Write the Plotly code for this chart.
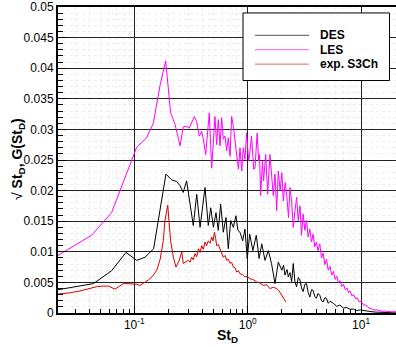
import numpy as np
import plotly.graph_objects as go

series_names = ["DES", "LES", "exp. S3Ch"]
series_colors = ["#000000", "#ff00ff", "#d40000"]

des_x = [0.0212, 0.0435, 0.063, 0.0845, 0.105, 0.124, 0.148, 0.169, 0.190, 0.215,
         0.236, 0.253, 0.270, 0.289, 0.306, 0.331, 0.355, 0.380, 0.420, 0.449,
         0.472, 0.498, 0.525, 0.550, 0.577, 0.609, 0.643, 0.674, 0.707, 0.747,
         0.787, 0.820, 0.855, 0.902, 0.945, 0.990, 1.04, 1.11, 1.19, 1.26,
         1.33, 1.42, 1.52, 1.62, 1.74, 1.86, 2.00, 2.07, 2.13, 2.22,
         2.28, 2.36, 2.44, 2.52, 2.61, 2.70, 2.79, 2.89, 2.98, 3.08,
         3.19, 3.30, 3.41, 3.53, 3.65, 3.77, 3.90, 4.03, 4.17, 4.32,
         4.47, 4.62, 4.79, 4.95, 5.12, 5.32, 5.68, 6.08, 6.51, 6.97,
         7.46, 7.98, 8.54, 9.1, 9.8, 11.0, 12.0, 13.3, 14.7, 16.3, 18.0, 20.3]
des_y = [0.0038, 0.0048, 0.0069, 0.0099, 0.0086, 0.0091, 0.0105, 0.0167, 0.0227, 0.0217,
         0.0215, 0.0208, 0.0197, 0.0216, 0.0183, 0.0143, 0.0194, 0.0140, 0.0205, 0.0143,
         0.0172, 0.0140, 0.0164, 0.0135, 0.0178, 0.0132, 0.0156, 0.0105, 0.0151, 0.0140,
         0.0159, 0.0135, 0.0132, 0.0118, 0.0137, 0.0089, 0.0129, 0.0102, 0.0127, 0.0089,
         0.0113, 0.0086, 0.0102, 0.0081, 0.0048, 0.0083, 0.0070, 0.0078, 0.0062, 0.0071,
         0.0059, 0.0066, 0.0051, 0.0081, 0.0050, 0.0043, 0.0058, 0.0054, 0.0041, 0.0035,
         0.0047, 0.0048, 0.0034, 0.0026, 0.0038, 0.0037, 0.0027, 0.0024, 0.0032, 0.0029,
         0.0020, 0.0018, 0.0025, 0.0024, 0.0016, 0.0019, 0.0016, 0.0011, 0.0013, 0.0008,
         0.0009, 0.0006, 0.00065, 0.0004, 0.0005, 0.0003, 0.00025, 0.00015, 0.0001, 0.00005, 0.00003, 0.00002]

les_x = [0.0212, 0.042, 0.063, 0.084, 0.105, 0.128, 0.147, 0.169, 0.189, 0.209,
         0.229, 0.253, 0.270, 0.290, 0.305, 0.338, 0.354, 0.374, 0.392, 0.406,
         0.426, 0.458, 0.481, 0.514, 0.532, 0.550, 0.570, 0.589, 0.609, 0.630,
         0.652, 0.674, 0.699, 0.721, 0.747, 0.773, 0.800, 0.828, 0.855, 0.885,
         0.913, 0.945, 0.978, 1.02, 1.04, 1.08, 1.13, 1.16, 1.21, 1.25,
         1.27, 1.30, 1.35, 1.38, 1.44, 1.50, 1.57, 1.62, 1.68, 1.74,
         1.80, 1.86, 1.93, 2.00, 2.06, 2.14, 2.21, 2.29, 2.36, 2.44,
         2.52, 2.61, 2.70, 2.79, 2.89, 2.98, 3.08, 3.19, 3.30, 3.41,
         3.53, 3.65, 3.77, 3.90, 4.03, 4.17, 4.32, 4.47, 4.62, 4.79,
         4.95, 5.12, 5.32, 5.5, 5.7, 5.9, 6.1, 6.3, 6.5, 6.75,
         7.0, 7.25, 7.5, 7.75, 8.0, 8.3, 8.6, 8.9, 9.2, 9.6,
         10.0, 10.5, 11.0, 11.5, 12.0, 13.0, 14.0, 15.0, 16.5, 18.0, 20.3]
les_y = [0.0094, 0.0127, 0.0164, 0.0226, 0.0271, 0.0286, 0.0310, 0.0373, 0.0412, 0.0327,
         0.0308, 0.0273, 0.0304, 0.0305, 0.0302, 0.0321, 0.0313, 0.0289, 0.0297, 0.0284,
         0.0259, 0.0327, 0.0237, 0.0321, 0.0275, 0.0316, 0.0273, 0.0319, 0.0284, 0.0289,
         0.0265, 0.0286, 0.0256, 0.0321, 0.0305, 0.0281, 0.0254, 0.0235, 0.0270, 0.0232,
         0.0270, 0.0251, 0.0294, 0.0248, 0.0259, 0.0289, 0.0235, 0.0237, 0.0294, 0.0248,
         0.0259, 0.0192, 0.0248, 0.0216, 0.0259, 0.0194, 0.0259, 0.0221, 0.0192, 0.0227,
         0.0167, 0.0232, 0.0200, 0.0229, 0.0183, 0.0213, 0.0192, 0.0156, 0.0205, 0.0181,
         0.0140, 0.0167, 0.0189, 0.0151, 0.0175, 0.0127, 0.0162, 0.0135, 0.0151, 0.0124,
         0.0137, 0.0116, 0.0129, 0.0108, 0.0116, 0.0102, 0.0113, 0.0090, 0.0098, 0.0079,
         0.0088, 0.0070, 0.0076, 0.0062, 0.0068, 0.0055, 0.0060, 0.0049, 0.0053, 0.0043,
         0.0047, 0.0038, 0.0041, 0.0033, 0.0036, 0.0028, 0.0030, 0.0023, 0.0025, 0.0018,
         0.0019, 0.0013, 0.0013, 0.0009, 0.0008, 0.0005, 0.0005, 0.0003, 0.0003, 0.0002, 0.0002]

exp_x = [0.0212, 0.0271, 0.0332, 0.0407, 0.0466, 0.053, 0.059, 0.0676, 0.073, 0.080,
         0.088, 0.098, 0.105, 0.112, 0.122, 0.133, 0.143, 0.158, 0.169, 0.180,
         0.186, 0.197, 0.209, 0.221, 0.233, 0.249, 0.262, 0.270, 0.286, 0.299,
         0.310, 0.320, 0.331, 0.343, 0.355, 0.368, 0.380, 0.393, 0.406, 0.420,
         0.434, 0.449, 0.465, 0.481, 0.494, 0.509, 0.521, 0.532, 0.550, 0.570,
         0.589, 0.609, 0.630, 0.652, 0.674, 0.699, 0.721, 0.747, 0.773, 0.800,
         0.828, 0.855, 0.898, 0.945, 0.993, 1.04, 1.11, 1.19, 1.28, 1.37,
         1.47, 1.57, 1.68, 1.80, 1.89, 2.00, 2.09, 2.17]
exp_y = [0.0031, 0.0033, 0.0036, 0.0040, 0.0043, 0.0044, 0.0044, 0.0039, 0.0043, 0.0048,
         0.0048, 0.0048, 0.0047, 0.0045, 0.0049, 0.0054, 0.0059, 0.0070, 0.0088, 0.0118,
         0.0150, 0.0176, 0.0118, 0.0091, 0.0075, 0.0086, 0.0100, 0.0081, 0.0084, 0.0086,
         0.0083, 0.0091, 0.0087, 0.0097, 0.0092, 0.0105, 0.0099, 0.0110, 0.0104, 0.0116,
         0.0110, 0.0118, 0.0114, 0.0124, 0.0118, 0.0132, 0.0122, 0.0110, 0.0112, 0.0105,
         0.0098, 0.0091, 0.0094, 0.0086, 0.0088, 0.0081, 0.0083, 0.0075, 0.0074, 0.0067,
         0.0069, 0.0064, 0.0063, 0.0059, 0.0060, 0.0056, 0.0055, 0.0051, 0.0049, 0.0045,
         0.0046, 0.0040, 0.0042, 0.0040, 0.0036, 0.0029, 0.0024, 0.0018]

x_tickvals = [0.1, 1, 10]
x_ticktext = ["10<sup>-1</sup>", "10<sup>0</sup>", "10<sup>1</sup>"]
y_tickvals = [0, 0.005, 0.01, 0.015, 0.02, 0.025, 0.03, 0.035, 0.04, 0.045, 0.05]
y_ticktext = ["0", "0.005", "0.01", "0.015", "0.02", "0.025", "0.03", "0.035", "0.04", "0.045", "0.05"]

x_minor = [m * 10.0 ** e for e in (-2, -1, 0, 1) for m in range(2, 10)]
y_minor = [round(i * 0.001, 3) for i in range(51) if i % 5 != 0]

FONT = "Liberation Sans, Arial, sans-serif"

fig = go.Figure()
for name, color, xs, ys in zip(series_names, series_colors,
                               [des_x, les_x, exp_x], [des_y, les_y, exp_y]):
    fig.add_trace(go.Scatter(x=xs, y=ys, mode="lines", name=name,
                             line=dict(color=color, width=1), showlegend=False))

# plot geometry (pixels) for manual legend placement
L, R, T, B = 58, 0, 5, 34
W, H = 396, 347
pw, ph = W - L - R, H - T - B

def px(xp):
    return (xp - L) / pw

def py(yp):
    return (H - B - yp) / ph

shapes = [dict(type="rect", xref="paper", yref="paper", x0=px(243), x1=px(389.5),
               y0=py(79), y1=py(11), line=dict(color="black", width=1), fillcolor="white", layer="above")]
annotations = []
legend_line_colors = ["#555555", "#ff55ff", "#e06666"]
for i, (name, lc) in enumerate(zip(series_names, legend_line_colors)):
    yy = 33.5 + i * 14.5
    shapes.append(dict(type="line", xref="paper", yref="paper", x0=px(255), x1=px(309),
                       y0=py(yy), y1=py(yy), line=dict(color=lc, width=1), layer="above"))
    annotations.append(dict(text="<b>%s</b>" % name, xref="paper", yref="paper",
                            x=px(318), y=py(yy), xanchor="left", yanchor="middle",
                            showarrow=False, font=dict(family=FONT, size=12, color="black")))

annotations.append(dict(text="√ <b>St<sub>D</sub>, G(St<sub>D</sub>)</b>", textangle=-90,
                        xref="paper", yref="paper", x=px(18), y=py(158),
                        xanchor="center", yanchor="middle", showarrow=False,
                        font=dict(family=FONT, size=14, color="black")))
annotations.append(dict(text="<b>St<sub>D</sub></b>", xref="paper", yref="paper",
                        x=px(227), y=py(336), xanchor="center", yanchor="middle",
                        showarrow=False, font=dict(family=FONT, size=14, color="black")))

fig.update_layout(
    width=W, height=H, margin=dict(l=L, r=R, t=T, b=B),
    paper_bgcolor="white", plot_bgcolor="white",
    font=dict(family=FONT, size=12, color="black"),
    shapes=shapes, annotations=annotations, showlegend=False,
    xaxis=dict(type="log", range=[np.log10(0.02123), np.log10(20.3)],
               tickmode="array", tickvals=x_tickvals, ticktext=x_ticktext,
               showgrid=True, gridcolor="#222222", gridwidth=1,
               ticks="inside", ticklen=7, tickcolor="black",
               showline=True, linecolor="black", linewidth=2, mirror=True,
               zeroline=False,
               minor=dict(tickmode="array", tickvals=x_minor, ticks="inside", ticklen=4,
                          tickcolor="black", showgrid=True, gridcolor="#ededed",
                          griddash="dot", gridwidth=1)),
    yaxis=dict(range=[0, 0.050002], tickmode="array", tickvals=y_tickvals, ticktext=y_ticktext,
               ticklabeloverflow="allow",
               showgrid=True, gridcolor="#222222", gridwidth=1,
               ticks="inside", ticklen=8, tickcolor="black",
               showline=True, linecolor="black", linewidth=2, mirror=False,
               zeroline=False,
               minor=dict(tickmode="array", tickvals=y_minor, ticks="inside", ticklen=5,
                          tickcolor="black", showgrid=True, gridcolor="#ededed",
                          griddash="dot", gridwidth=1)),
)

fig.write_html("out.html")
